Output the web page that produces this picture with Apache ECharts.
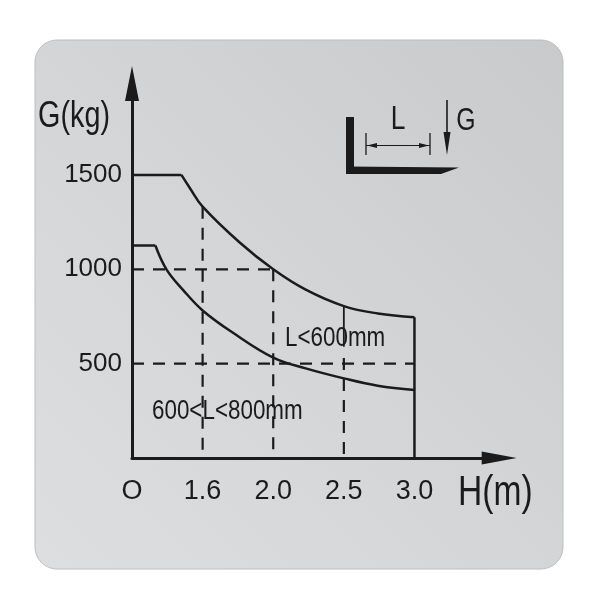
<!DOCTYPE html>
<html>
<head>
<meta charset="utf-8">
<title>G-H load chart</title>
<script src="https://cdn.jsdelivr.net/npm/echarts@6/dist/echarts.min.js"></script>
<style>
  html, body { margin: 0; padding: 0; background: #fff; }
  #chart { width: 600px; height: 600px; }
</style>
</head>
<body>
<div id="chart"></div>
<script>
// lift height ticks (m) and the text printed under them
const hTicks = [0, 1.6, 2.0, 2.5, 3.0];
const hTickText = ['O', '1.6', '2.0', '2.5', '3.0'];
// load ticks (kg)
const gTicks = [500, 1000, 1500];

// curve for L<600mm
const upperH = [0, 1.12, 1.31, 1.6, 1.81, 2.0, 2.23, 2.5, 2.74, 3.0];
const upperG = [1500, 1500, 1431, 1332, 1142, 1000, 892, 805, 766, 746];
// curve for 600<L<800mm
const lowerH = [0, 0.53, 0.78, 1.16, 1.6, 1.77, 2.0, 2.23, 2.5, 2.74, 3.0];
const lowerG = [1126, 1126, 1000, 890, 782, 665, 532, 475, 422, 383, 360];

// dashed reading lines [h1, g1, h2, g2]
const guides = [
  [0, 1000, 2.0, 1000],
  [1.6, 1332, 1.6, 0],
  [2.0, 1000, 2.0, 0],
  [0, 500, 3.0, 500],
  [2.5, 530, 2.5, 0]
];
const leader = [2.5, 805, 2.5, 590];   // solid pointer to the L<600mm text
const edge = [3.0, 746, 3.0, 0];       // right hand limit

const ink = '#1b1b1b';
const font = "'Liberation Sans', Arial, sans-serif";
const narrow = 0.8;   // the plate is printed in a condensed face

// the printed H axis is evenly spaced per tick, not linear in metres
const hPos = (h) => {
  for (let i = 1; i < hTicks.length; i++) {
    if (h <= hTicks[i]) {
      return i - 1 + (h - hTicks[i - 1]) / (hTicks[i] - hTicks[i - 1]);
    }
  }
  return hTicks.length - 1;
};

const toPts = (hs, gs) => hs.map((h, i) => [hPos(h), gs[i]]);
const seg = (s) => [[hPos(s[0]), s[1]], [hPos(s[2]), s[3]]];

const line = (data, extra) => Object.assign({
  type: 'line',
  data: data,
  symbol: 'none',
  silent: true,
  z: 3,
  lineStyle: { color: ink, width: 2.5 }
}, extra);

// condensed text block
const label = (text, x, y, size, align) => ({
  type: 'text', z: 100, x: x, y: y, scaleX: narrow,
  style: { text: text, fill: ink, font: size + 'px ' + font, align: align || 'left', verticalAlign: 'middle' }
});

const upperPts = toPts(upperH, upperG);
const lowerPts = toPts(lowerH, lowerG);

const series = [];
guides.forEach((s) => {
  series.push(line(seg(s), { z: 2, lineStyle: { color: ink, width: 2.2, type: [12, 9] } }));
});
series.push(line(seg(leader), { lineStyle: { color: ink, width: 1.8 } }));
series.push(line(seg(edge)));
series.push(line(upperPts.slice(0, 2)));
series.push(line(upperPts.slice(1), { smooth: 0.4 }));
series.push(line(lowerPts.slice(0, 2)));
series.push(line(lowerPts.slice(1), { smooth: 0.4 }));

const myChart = echarts.init(document.getElementById('chart'));

const option = {
  animation: false,
  backgroundColor: '#ffffff',
  grid: { left: 132, right: 100.8, top: 80.6, bottom: 142 },
  xAxis: {
    type: 'value',
    min: 0,
    max: 5.2,
    interval: 1,
    splitLine: { show: false },
    axisTick: { show: false },
    axisLine: {
      lineStyle: { color: ink, width: 3 },
      symbol: ['none', 'triangle'],
      symbolSize: [13, 35]
    },
    axisLabel: {
      margin: 20,
      color: ink,
      fontSize: 27,
      fontFamily: font,
      formatter: (v) => hTickText[v] || ''
    }
  },
  yAxis: {
    type: 'value',
    min: 0,
    max: 2000,
    interval: 500,
    splitLine: { show: false },
    axisTick: { show: false },
    axisLine: {
      lineStyle: { color: ink, width: 3 },
      symbol: ['none', 'triangle'],
      symbolSize: [14, 35],
      symbolOffset: [0, -3]
    },
    axisLabel: {
      margin: 10,
      color: ink,
      fontSize: 26,
      fontFamily: font,
      formatter: (v) => (gTicks.indexOf(v) >= 0 ? String(v) : '')
    }
  },
  graphic: [
    // the plate
    {
      type: 'rect', z: -100, silent: true,
      shape: { x: 35, y: 40, width: 528, height: 529, r: 22 },
      style: {
        fill: new echarts.graphic.LinearGradient(0, 1, 1, 0, [
          { offset: 0, color: '#dddee0' },
          { offset: 0.5, color: '#d4d5d7' },
          { offset: 1, color: '#c9cacc' }
        ]),
        stroke: '#bdbec0', lineWidth: 1
      }
    },
    // axis names
    label('G(kg)', 38, 117, 36),
    label('H(m)', 458, 493, 42),
    // curve labels
    label('L<600mm', 285, 338, 28),
    label('600<L<800mm', 152, 411, 28),
    // fork symbol
    { type: 'rect', z: 100, shape: { x: 346, y: 117, width: 8, height: 57 }, style: { fill: ink } },
    { type: 'polygon', z: 100,
      shape: { points: [[346, 166.5], [459, 167.5], [441, 174], [346, 174]] }, style: { fill: ink } },
    { type: 'line', z: 100, shape: { x1: 366, y1: 133, x2: 366, y2: 155 }, style: { stroke: ink, lineWidth: 1.3 } },
    { type: 'line', z: 100, shape: { x1: 430, y1: 133, x2: 430, y2: 155 }, style: { stroke: ink, lineWidth: 1.3 } },
    { type: 'line', z: 100, shape: { x1: 366, y1: 145.5, x2: 430, y2: 145.5 }, style: { stroke: ink, lineWidth: 1.2 } },
    { type: 'polygon', z: 100, shape: { points: [[367, 145.5], [377, 143], [377, 148]] }, style: { fill: ink } },
    { type: 'polygon', z: 100, shape: { points: [[429, 145.5], [419, 143], [419, 148]] }, style: { fill: ink } },
    label('L', 398, 120, 33, 'center'),
    { type: 'line', z: 100, shape: { x1: 447, y1: 100, x2: 447, y2: 135 }, style: { stroke: ink, lineWidth: 1.6 } },
    { type: 'polygon', z: 100, shape: { points: [[443.5, 132], [450.5, 132], [447, 155]] }, style: { fill: ink } },
    label('G', 466, 121, 31, 'center')
  ],
  series: series
};

myChart.setOption(option, true);
window.onresize = myChart.resize;
</script>
</body>
</html>
